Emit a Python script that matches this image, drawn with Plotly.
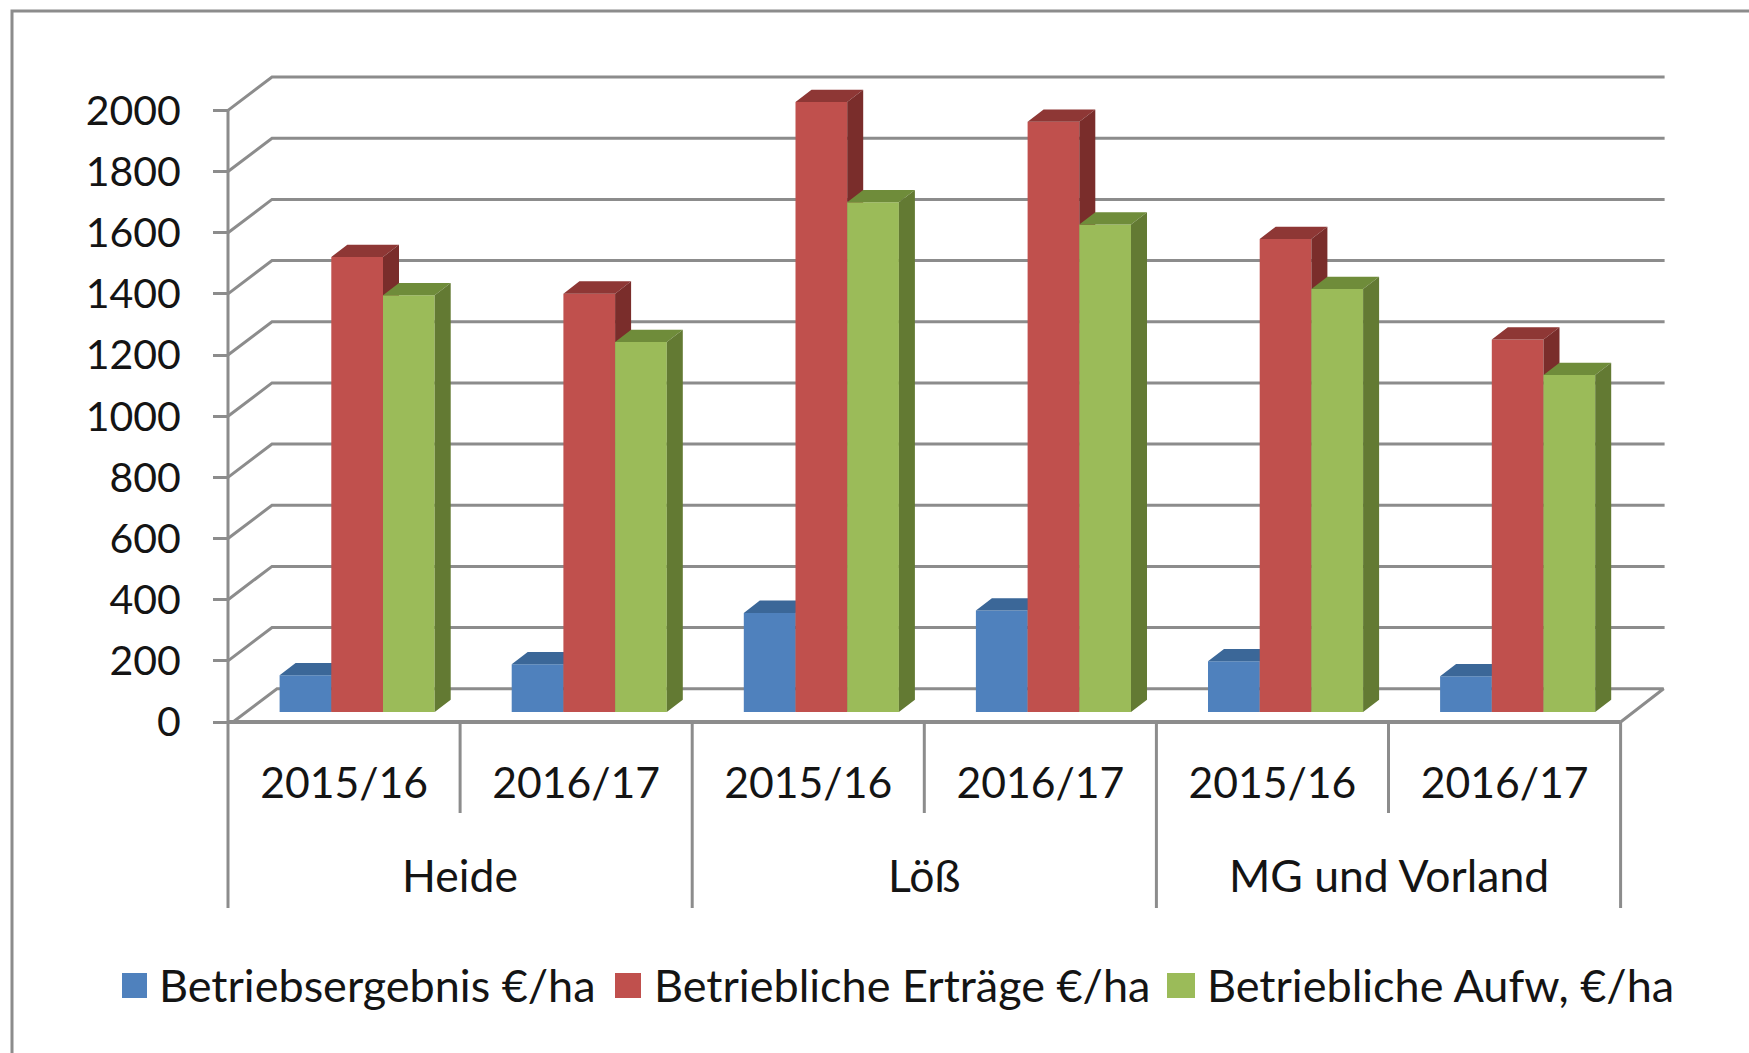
import plotly.graph_objects as go

# ---- data ----
years = ["2015/16", "2016/17", "2015/16", "2016/17", "2015/16", "2016/17"]
regions = ["Heide", "Löß", "MG und Vorland"]
y_ticks = [0, 200, 400, 600, 800, 1000, 1200, 1400, 1600, 1800, 2000]
series_names = ["Betriebsergebnis €/ha", "Betriebliche Erträge €/ha", "Betriebliche Aufw, €/ha"]
betriebsergebnis = [120, 156, 324, 332, 166, 117]
ertraege = [1488, 1368, 1995, 1930, 1547, 1218]
aufwand = [1363, 1210, 1667, 1594, 1383, 1102]

# ---- styling / geometry ----
W, H = 1749, 1053
FRONT_LEFT, FRONT_BOTTOM = 228, 722
PX_PER_CAT = 232.1
PX_PER_VAL = 0.3058
PLOT_LEFT, PLOT_RIGHT, PLOT_TOP, PLOT_BOTTOM = 218, 1700, 50, 922

def ux(px): return px / PX_PER_CAT
def uy(px): return px / PX_PER_VAL

WALL_DX, WALL_DY = ux(44), uy(33.3)
FLOOR_INSET = ux(5)
BAR_BASE = uy(10)
BAR_W = ux(51.7)
BAR_START = ux(51.6)
BAR_DX, BAR_DY = ux(16), uy(12.3)

GREY = "#8c8c8c"
TEXT = "#141414"
FONT = "Lato"
FS_VAL, FS_YEAR, FS_REGION, FS_LEG = 41, 42.7, 44.5, 45
series = [betriebsergebnis, ertraege, aufwand]
front_cols = ["#4F81BD", "#C0504D", "#9BBB59"]
top_cols = ["#3B6798", "#8E3735", "#6F8C3A"]
side_cols = ["#335A85", "#7A2D2B", "#637A33"]

fig = go.Figure()
n = len(years)

def line(xs, ys, width=3):
    fig.add_trace(go.Scatter(x=xs, y=ys, mode="lines", line=dict(color=GREY, width=width),
                             hoverinfo="skip", showlegend=False,
                             xaxis="x", yaxis="y"))

# back wall gridlines and their diagonals
for v in y_ticks[1:]:
    line([0, WALL_DX, n + WALL_DX], [v, v + WALL_DY, v + WALL_DY], 3)
# value axis line, floor and category axis
line([0, 0], [0, y_ticks[-1]], 3)
line([FLOOR_INSET, WALL_DX + FLOOR_INSET, n + WALL_DX - ux(1), n],
     [0, WALL_DY, WALL_DY, 0], 3)
line([0, n], [0, 0], 4)
# category separators, two tiers
short_drop, long_drop = uy(91), uy(186)
for k in range(n + 1):
    line([k, k], [0, -(long_drop if k % 2 == 0 else short_drop)], 3)

# bars: one overlay subplot per series so that painting order is blue, red, green
for i, (name, vals) in enumerate(zip(series_names, series)):
    ya = f"y{i + 2}"
    offset = BAR_START + i * BAR_W
    xs = [k + 0.5 for k in range(n)]
    fig.add_trace(go.Bar(x=xs, y=vals, base=BAR_BASE, width=BAR_W, offset=offset - 0.5,
                         name=name, marker=dict(color=front_cols[i], line=dict(width=0)),
                         showlegend=False, xaxis="x", yaxis=ya))
    top_x, top_y, side_x, side_y = [], [], [], []
    for k, v in enumerate(vals):
        x0, x1 = k + offset, k + offset + BAR_W
        t = BAR_BASE + v
        top_x += [x0, x1, x1 + BAR_DX, x0 + BAR_DX, x0, None]
        top_y += [t, t, t + BAR_DY, t + BAR_DY, t, None]
        side_x += [x1, x1 + BAR_DX, x1 + BAR_DX, x1, x1, None]
        side_y += [BAR_BASE, BAR_BASE + BAR_DY, t + BAR_DY, t, BAR_BASE, None]
    for xx, yy, col in ((top_x, top_y, top_cols[i]), (side_x, side_y, side_cols[i])):
        fig.add_trace(go.Scatter(x=xx, y=yy, mode="lines", fill="toself", fillcolor=col,
                                 line=dict(width=0, color=col), hoverinfo="skip",
                                 showlegend=False, xaxis="x", yaxis=ya))

y_range = [-uy(PLOT_BOTTOM - FRONT_BOTTOM), uy(FRONT_BOTTOM - PLOT_TOP)]
x_range = [-ux(FRONT_LEFT - PLOT_LEFT), ux(PLOT_RIGHT - FRONT_LEFT)]
layout_axes = {
    f"yaxis{i + 2}": dict(overlaying="y", range=y_range, visible=False, fixedrange=True)
    for i in range(3)
}

annotations = []
for j, r in enumerate(regions):
    annotations.append(dict(x=2 * j + 1, xref="x", y=1 - 874 / H, yref="paper", text=r,
                            showarrow=False, xanchor="center", yanchor="middle",
                            font=dict(family=FONT, size=FS_REGION, color=TEXT)))

legend_square_px = [122, 615, 1167]
legend_square_w = [25, 26, 28]
legend_text_px = [157, 652, 1205]
shapes = [dict(type="path", xref="paper", yref="paper",
               path=f"M {12 / W} 0 L {12 / W} {1 - 11 / H} L 1 {1 - 11 / H}",
               line=dict(color=GREY, width=3))]
for i, name in enumerate(series_names):
    shapes.append(dict(type="rect", xref="paper", yref="paper", layer="above",
                       x0=legend_square_px[i] / W, x1=(legend_square_px[i] + legend_square_w[i]) / W,
                       y0=1 - 998 / H, y1=1 - 973 / H,
                       fillcolor=front_cols[i], line=dict(width=0)))
    annotations.append(dict(x=legend_text_px[i] / W, xref="paper", y=1 - 985 / H, yref="paper",
                            text=name, showarrow=False, xanchor="left", yanchor="middle",
                            font=dict(family=FONT, size=FS_LEG, color=TEXT)))

fig.update_layout(
    width=W, height=H, margin=dict(l=0, r=0, t=0, b=0, autoexpand=False),
    paper_bgcolor="white", plot_bgcolor="rgba(0,0,0,0)",
    barmode="overlay", showlegend=False,
    font=dict(family=FONT, size=FS_VAL, color=TEXT),
    xaxis=dict(domain=[PLOT_LEFT / W, PLOT_RIGHT / W], range=x_range,
               anchor="free", position=1 - FRONT_BOTTOM / H,
               tickmode="array", tickvals=[k + 0.5 for k in range(n)], ticktext=years,
               ticks="", showgrid=False, zeroline=False, showline=False, fixedrange=True,
               ticklabelstandoff=32, tickfont=dict(family=FONT, size=FS_YEAR, color=TEXT)),
    yaxis=dict(domain=[1 - PLOT_BOTTOM / H, 1 - PLOT_TOP / H], range=y_range,
               anchor="free", position=FRONT_LEFT / W,
               tickmode="array", tickvals=y_ticks, ticks="outside", ticklen=15, tickwidth=3,
               tickcolor=GREY, showgrid=False, zeroline=False, showline=False, fixedrange=True,
               ticklabelstandoff=24, tickfont=dict(family=FONT, size=FS_VAL, color=TEXT)),
    annotations=annotations, shapes=shapes,
    **layout_axes,
)

fig.write_html("out.html", config=dict(displayModeBar=False),
               post_script="document.body.style.margin='0';document.body.style.overflow='hidden';")
